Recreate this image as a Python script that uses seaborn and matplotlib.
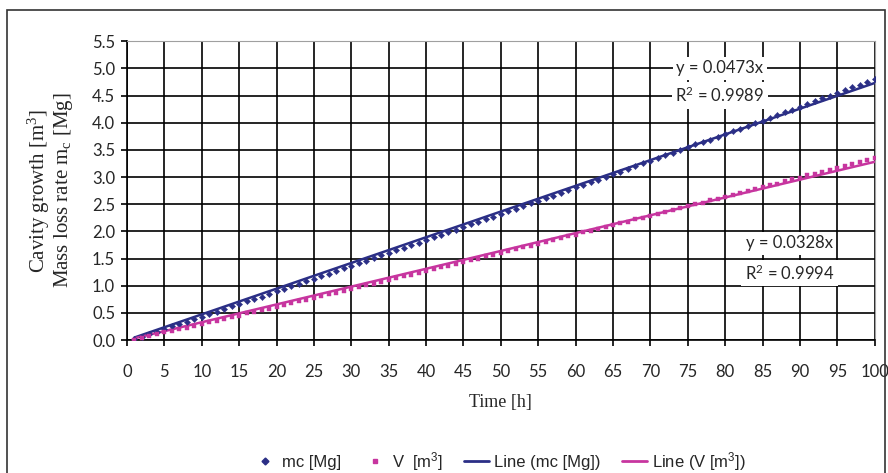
import matplotlib
matplotlib.use("Agg")
import numpy as np
import pandas as pd
import seaborn as sns
from matplotlib import pyplot as plt
from matplotlib.patches import Rectangle
from matplotlib.lines import Line2D

time_h = list(range(1, 101))
mc_mg = [
    0.02, 0.06, 0.11, 0.15, 0.20, 0.25, 0.29, 0.34, 0.38, 0.43,
    0.48, 0.52, 0.57, 0.62, 0.66, 0.71, 0.76, 0.80, 0.85, 0.90,
    0.94, 0.99, 1.04, 1.08, 1.13, 1.18, 1.22, 1.27, 1.32, 1.37,
    1.41, 1.46, 1.51, 1.56, 1.60, 1.65, 1.70, 1.75, 1.79, 1.84,
    1.89, 1.94, 1.99, 2.03, 2.08, 2.13, 2.18, 2.23, 2.27, 2.32,
    2.37, 2.42, 2.47, 2.52, 2.56, 2.61, 2.66, 2.71, 2.76, 2.81,
    2.86, 2.91, 2.95, 3.00, 3.05, 3.10, 3.15, 3.20, 3.25, 3.30,
    3.35, 3.40, 3.45, 3.50, 3.55, 3.60, 3.64, 3.69, 3.74, 3.79,
    3.84, 3.89, 3.94, 3.99, 4.04, 4.09, 4.14, 4.19, 4.24, 4.29,
    4.34, 4.40, 4.45, 4.50, 4.55, 4.60, 4.65, 4.70, 4.75, 4.80,
]
v_m3 = [
    0.01, 0.04, 0.07, 0.11, 0.14, 0.17, 0.20, 0.23, 0.26, 0.30,
    0.33, 0.36, 0.39, 0.42, 0.45, 0.49, 0.52, 0.55, 0.58, 0.61,
    0.65, 0.68, 0.71, 0.74, 0.78, 0.81, 0.84, 0.87, 0.91, 0.94,
    0.97, 1.01, 1.04, 1.07, 1.10, 1.14, 1.17, 1.20, 1.24, 1.27,
    1.30, 1.34, 1.37, 1.40, 1.44, 1.47, 1.50, 1.54, 1.57, 1.60,
    1.64, 1.67, 1.71, 1.74, 1.77, 1.81, 1.84, 1.88, 1.91, 1.94,
    1.98, 2.01, 2.05, 2.08, 2.12, 2.15, 2.18, 2.22, 2.25, 2.29,
    2.32, 2.36, 2.39, 2.43, 2.46, 2.50, 2.53, 2.57, 2.60, 2.64,
    2.67, 2.71, 2.74, 2.78, 2.81, 2.85, 2.88, 2.92, 2.96, 2.99,
    3.03, 3.06, 3.10, 3.13, 3.17, 3.21, 3.24, 3.28, 3.31, 3.35,
]
slope_mc = 0.0473
r2_mc = 0.9989
slope_v = 0.0328
r2_v = 0.9994

NAVY = "#2B2F86"
PINK = "#C7359F"

df = pd.DataFrame({"time": time_h, "mc": mc_mg, "V": v_m3})
df["line_mc"] = slope_mc * df["time"]
df["line_V"] = slope_v * df["time"]

sns.set_style("white")
plt.rcParams["font.family"] = ["Lato", "DejaVu Sans"]

fig = plt.figure(figsize=(8.88, 4.73), dpi=100)
ax = fig.add_axes([0.143, 0.281, 0.842, 0.632])

sns.lineplot(ax=ax, data=df, x="time", y="line_mc", color=NAVY, lw=1.8, zorder=3)
sns.lineplot(ax=ax, data=df, x="time", y="line_V", color=PINK, lw=1.8, zorder=3)
sns.scatterplot(ax=ax, data=df, x="time", y="mc", marker="D", s=10,
                color=NAVY, edgecolor=NAVY, linewidth=0.3, zorder=4)
sns.scatterplot(ax=ax, data=df, x="time", y="V", marker="s", s=10,
                color=PINK, edgecolor=PINK, linewidth=0.3, zorder=4)

ax.set_xlim(0, 100)
ax.set_ylim(0, 5.5)
ax.set_xticks(np.arange(0, 101, 5))
ax.set_yticks(np.arange(0, 5.51, 0.5))
ax.set_yticklabels([f"{v:.1f}" for v in np.arange(0, 5.51, 0.5)])
ax.grid(True, color="black", lw=1.2, zorder=0)
ax.set_axisbelow(True)
ax.tick_params(axis="both", direction="out", length=4.5, width=1.2,
               color="black", labelsize=12, pad=4, bottom=True, left=True)
ax.tick_params(axis="x", pad=13)
for side in ["left", "bottom"]:
    ax.spines[side].set_color("black")
    ax.spines[side].set_linewidth(1.2)
for side in ["top", "right"]:
    ax.spines[side].set_color("#a0a0a0")
    ax.spines[side].set_linewidth(0.8)

ax.set_xlabel("Time [h]", family="Liberation Serif", fontsize=13, labelpad=10)
ax.set_ylabel("Cavity growth [m$\\mathregular{^3}$]\nMass loss rate m$\\mathregular{_c}$ [Mg]",
              family="Liberation Serif", fontsize=15, labelpad=12, linespacing=1.0)

box = dict(facecolor="white", edgecolor="none", pad=2.5)
ax.text(79.3, 5.0, f"y = {slope_mc}x", ha="center", va="center",
        fontsize=12, bbox=box, zorder=5)
ax.text(79.3, 4.5, f"R$\\mathregular{{^2}}$ = {r2_mc}", ha="center", va="center",
        fontsize=12, bbox=box, zorder=5)
ax.text(88.6, 1.78, f"y = {slope_v}x", ha="center", va="center",
        fontsize=12, bbox=box, zorder=5)
ax.text(88.6, 1.23, f"R$\\mathregular{{^2}}$ = {r2_v}", ha="center", va="center",
        fontsize=12, bbox=box, zorder=5)

handles = [
    Line2D([], [], ls="none", marker="D", ms=3.5, color=NAVY),
    Line2D([], [], ls="none", marker="s", ms=3.5, color=PINK),
    Line2D([], [], color=NAVY, lw=2),
    Line2D([], [], color=PINK, lw=2),
]
labels = ["mc [Mg]", "V  [m$\\mathregular{^3}$]", "Line (mc [Mg])",
          "Line (V [m$\\mathregular{^3}$])"]
fig.legend(handles, labels, loc="center", bbox_to_anchor=(0.562, 0.025),
           ncol=4, frameon=False, handlelength=1.5,
           handletextpad=0.3, columnspacing=1.25,
           prop={"family": "Liberation Sans", "size": 12})

fig.patches.append(Rectangle((0.008, -0.1), 0.989, 1.079, transform=fig.transFigure,
                             fill=False, edgecolor="#333333", lw=1.2, zorder=0))

fig.savefig("out.png", dpi=100)
